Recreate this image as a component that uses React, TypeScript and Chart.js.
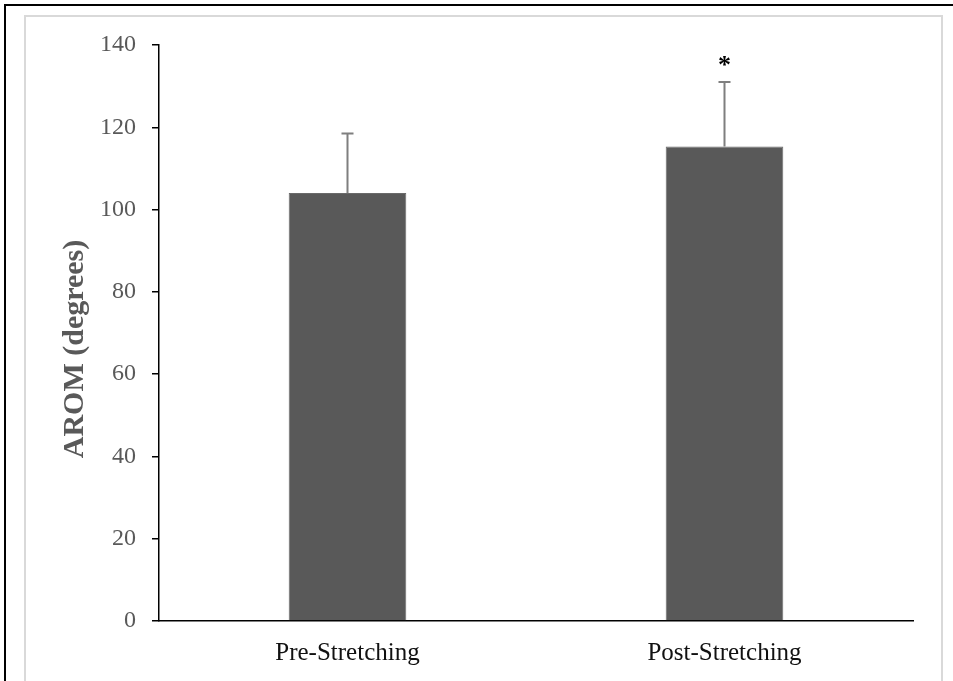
import React, { useEffect, useRef } from "react";
import { Chart, registerables } from "chart.js";

Chart.register(...registerables);

const categories = ["Pre-Stretching", "Post-Stretching"];
const meanValues = [104, 115.3];
const errorValues = [14.5, 15.7];
const significance = ["", "*"];
const yMin = 0;
const yMax = 140;
const yStep = 20;
const yAxisTitle = "AROM (degrees)";

const FONT = "'Liberation Serif', 'Times New Roman', serif";

const PAD_LEFT = 40;
const PAD_TOP = 45;
const PAD_RIGHT = 40;
const Y_AXIS_RIGHT = 159;
const X_AXIS_BOTTOM_SPACE = 60;

const overlayPlugin = {
  id: "overlay",
  afterDatasetsDraw(chart: any) {
    const ctx = chart.ctx;
    const meta = chart.getDatasetMeta(0);
    const y = chart.scales.y;
    meta.data.forEach((bar: any, i: number) => {
      const x = bar.x;
      const top = y.getPixelForValue(meanValues[i] + errorValues[i]);
      const base = y.getPixelForValue(meanValues[i]);
      ctx.save();
      ctx.strokeStyle = "#7f7f7f";
      ctx.lineWidth = 2;
      ctx.beginPath();
      ctx.moveTo(x, base);
      ctx.lineTo(x, top);
      ctx.moveTo(x - 6, top);
      ctx.lineTo(x + 6, top);
      ctx.stroke();
      if (significance[i]) {
        ctx.fillStyle = "#000";
        ctx.font = `bold 26px ${FONT}`;
        ctx.textAlign = "center";
        ctx.textBaseline = "alphabetic";
        ctx.fillText(significance[i], x, top - 9);
      }
      ctx.restore();
    });
  },
  afterDraw(chart: any) {
    const ctx = chart.ctx;
    const area = chart.chartArea;
    ctx.save();
    ctx.translate(75, (area.top + area.bottom) / 2 + 16);
    ctx.rotate(-Math.PI / 2);
    ctx.fillStyle = "#595959";
    ctx.font = `bold 30px ${FONT}`;
    ctx.textAlign = "center";
    ctx.textBaseline = "middle";
    ctx.fillText(yAxisTitle, 0, 0);
    ctx.restore();
  },
};

export default function App() {
  const canvasRef = useRef<HTMLCanvasElement | null>(null);

  useEffect(() => {
    if (!canvasRef.current) return;
    const chart = new Chart(canvasRef.current, {
      type: "bar",
      data: {
        labels: categories,
        datasets: [
          {
            data: meanValues,
            backgroundColor: "#595959",
            borderColor: "#6a6a6a",
            borderWidth: 1,
            categoryPercentage: 1,
            barPercentage: 0.312,
          },
        ],
      },
      options: {
        responsive: false,
        animation: false,
        layout: { padding: { left: PAD_LEFT, top: PAD_TOP, right: PAD_RIGHT, bottom: 0 } },
        plugins: {
          legend: { display: false },
          tooltip: { enabled: false },
          title: { display: false },
        },
        scales: {
          x: {
            grid: { display: false, drawTicks: false },
            border: { display: true, color: "#000", width: 1.5 },
            ticks: {
              color: "#111",
              font: { family: FONT, size: 25 },
              padding: 17,
            },
            afterFit: (s: any) => {
              s.height = X_AXIS_BOTTOM_SPACE;
            },
          },
          y: {
            min: yMin,
            max: yMax,
            ticks: {
              stepSize: yStep,
              color: "#595959",
              font: { family: FONT, size: 24 },
              padding: 16,
            },
            grid: {
              display: true,
              drawOnChartArea: false,
              drawTicks: true,
              tickLength: 7,
              color: "#000",
              lineWidth: 1.5,
            },
            border: { display: true, color: "#000", width: 1.5 },
            afterFit: (s: any) => {
              s.width = Y_AXIS_RIGHT - PAD_LEFT;
            },
          },
        },
      },
      plugins: [overlayPlugin],
    });
    return () => chart.destroy();
  }, []);

  return (
    <div style={{ position: "absolute", left: 0, top: 0, width: 953, height: 681, overflow: "hidden", background: "#fff" }}>
      <div
        style={{
          position: "absolute",
          left: 4,
          top: 4,
          right: -10,
          bottom: -10,
          borderTop: "2px solid #000",
          borderLeft: "2px solid #000",
        }}
      />
      <div
        style={{
          position: "absolute",
          left: 24,
          top: 15,
          width: 915,
          bottom: -10,
          border: "2px solid #d9d9d9",
        }}
      />
      <canvas
        ref={canvasRef}
        width={953}
        height={681}
        style={{ position: "absolute", left: 0, top: 0, width: 953, height: 681 }}
      />
    </div>
  );
}
